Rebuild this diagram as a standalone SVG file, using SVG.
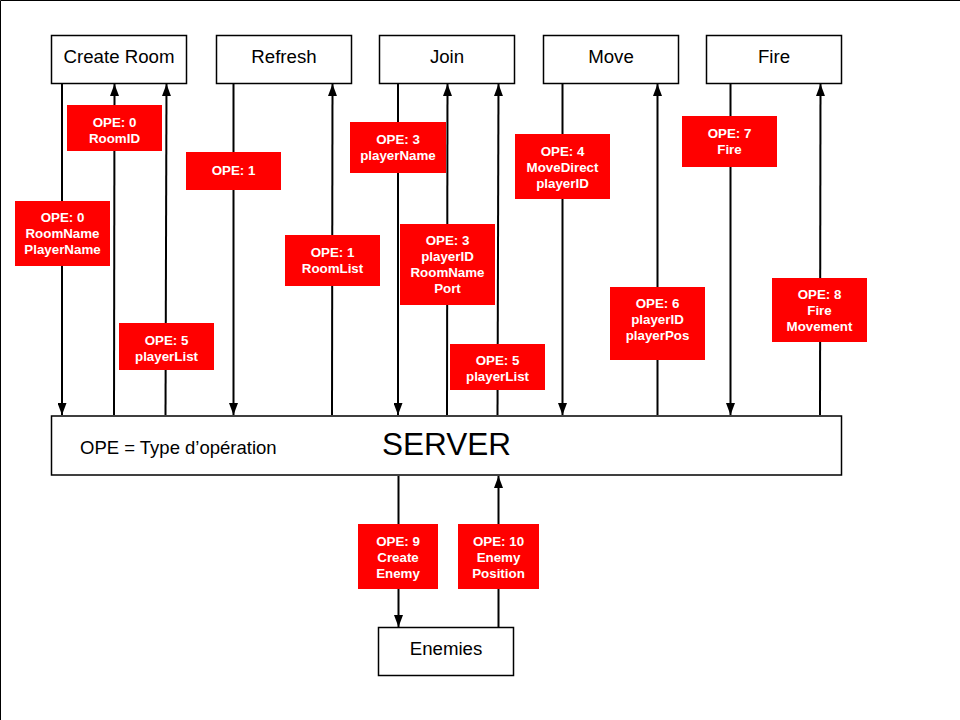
<svg xmlns="http://www.w3.org/2000/svg" width="960" height="720" viewBox="0 0 960 720">
<style>
.box{fill:#fff;stroke:#000;stroke-width:1.5}
.bt{font-family:"Liberation Sans",Arial,sans-serif;font-size:18.67px;fill:#000;text-anchor:middle}
.ln{stroke:#000;stroke-width:2;fill:none}
.lbl{fill:#ff0000}
.lt{font-family:"Liberation Sans",Arial,sans-serif;font-size:13.33px;font-weight:bold;fill:#fff;text-anchor:middle}
</style>
<defs>
<marker id="ah" markerUnits="userSpaceOnUse" markerWidth="12" markerHeight="9" refX="12" refY="4.5" orient="auto">
<path d="M0,0 L12,4.5 L0,9 z" fill="#000"/>
</marker>
</defs>
<rect width="960" height="720" fill="#fff"/>
<path d="M0.5,720 V0.5 H960" fill="none" stroke="#000" stroke-width="1"/>

<g id="create-room"><rect class="box" x="51.5" y="35.5" width="135" height="48"/><text class="bt" x="119" y="62.5">Create Room</text></g>
<g id="refresh"><rect class="box" x="216.5" y="35.5" width="135" height="48"/><text class="bt" x="284" y="62.5">Refresh</text></g>
<g id="join"><rect class="box" x="379.5" y="35.5" width="135" height="48"/><text class="bt" x="447" y="62.5">Join</text></g>
<g id="move"><rect class="box" x="543.5" y="35.5" width="135" height="48"/><text class="bt" x="611" y="62.5">Move</text></g>
<g id="fire"><rect class="box" x="706.5" y="35.5" width="135" height="48"/><text class="bt" x="774" y="62.5">Fire</text></g>
<g id="server"><rect class="box" x="51.5" y="416" width="790" height="59"/>
<text x="80" y="453.5" font-family="'Liberation Sans',Arial,sans-serif" font-size="18.5" fill="#000">OPE = Type d’opération</text>
<text x="382" y="455" font-family="'Liberation Sans',Arial,sans-serif" font-size="31.5" fill="#000">SERVER</text></g>
<g id="enemies"><rect class="box" x="378.5" y="627.5" width="135" height="48"/><text class="bt" x="446" y="655">Enemies</text></g>

<g id="connectors">
<line class="ln" x1="62" y1="84" x2="62" y2="415" marker-end="url(#ah)"/>
<line class="ln" x1="114" y1="415" x2="114.5" y2="84" marker-end="url(#ah)"/>
<line class="ln" x1="165.5" y1="415" x2="166.5" y2="84" marker-end="url(#ah)"/>
<line class="ln" x1="233.5" y1="84" x2="233.5" y2="415" marker-end="url(#ah)"/>
<line class="ln" x1="332" y1="415" x2="332.5" y2="84" marker-end="url(#ah)"/>
<line class="ln" x1="398" y1="84" x2="398" y2="415" marker-end="url(#ah)"/>
<line class="ln" x1="447" y1="415" x2="447.5" y2="84" marker-end="url(#ah)"/>
<line class="ln" x1="497.5" y1="415" x2="498.5" y2="84" marker-end="url(#ah)"/>
<line class="ln" x1="562.5" y1="84" x2="562.5" y2="415" marker-end="url(#ah)"/>
<line class="ln" x1="657.5" y1="415" x2="657.5" y2="84" marker-end="url(#ah)"/>
<line class="ln" x1="730.5" y1="84" x2="730.5" y2="415" marker-end="url(#ah)"/>
<line class="ln" x1="820" y1="415" x2="820.5" y2="84" marker-end="url(#ah)"/>
<line class="ln" x1="398.5" y1="476" x2="398.5" y2="627" marker-end="url(#ah)"/>
<line class="ln" x1="498.5" y1="627" x2="498.5" y2="476" marker-end="url(#ah)"/>

<g id="lbl1"><rect class="lbl" x="15" y="201" width="95" height="65"/><text class="lt" x="62.5" y="222.3">OPE: 0</text><text class="lt" x="62.5" y="238.3">RoomName</text><text class="lt" x="62.5" y="254.3">PlayerName</text></g>
<g id="lbl2"><rect class="lbl" x="67" y="105" width="95" height="46"/><text class="lt" x="114.5" y="126.5">OPE: 0</text><text class="lt" x="114.5" y="142.5">RoomID</text></g>
<g id="lbl3"><rect class="lbl" x="119" y="323" width="95" height="47"/><text class="lt" x="166.5" y="344.5">OPE: 5</text><text class="lt" x="166.5" y="360.5">playerList</text></g>
<g id="lbl4"><rect class="lbl" x="186" y="152" width="95" height="38"/><text class="lt" x="233.5" y="174.5">OPE: 1</text></g>
<g id="lbl5"><rect class="lbl" x="285" y="235" width="95" height="51"/><text class="lt" x="332.5" y="257">OPE: 1</text><text class="lt" x="332.5" y="273">RoomList</text></g>
<g id="lbl6"><rect class="lbl" x="350" y="122" width="96" height="51"/><text class="lt" x="398" y="144">OPE: 3</text><text class="lt" x="398" y="160">playerName</text></g>
<g id="lbl7"><rect class="lbl" x="400" y="224" width="95" height="81"/><text class="lt" x="447.5" y="245.3">OPE: 3</text><text class="lt" x="447.5" y="261.3">playerID</text><text class="lt" x="447.5" y="277.3">RoomName</text><text class="lt" x="447.5" y="293.3">Port</text></g>
<g id="lbl8"><rect class="lbl" x="450" y="344" width="95" height="46"/><text class="lt" x="497.5" y="364.5">OPE: 5</text><text class="lt" x="497.5" y="380.5">playerList</text></g>
<g id="lbl9"><rect class="lbl" x="515" y="134" width="95" height="65"/><text class="lt" x="562.5" y="155.5">OPE: 4</text><text class="lt" x="562.5" y="171.5">MoveDirect</text><text class="lt" x="562.5" y="187.5">playerID</text></g>
<g id="lbl10"><rect class="lbl" x="610" y="287" width="95" height="73"/><text class="lt" x="657.5" y="308.3">OPE: 6</text><text class="lt" x="657.5" y="324.3">playerID</text><text class="lt" x="657.5" y="340.3">playerPos</text></g>
<g id="lbl11"><rect class="lbl" x="682" y="116" width="95" height="51"/><text class="lt" x="729.5" y="138.3">OPE: 7</text><text class="lt" x="729.5" y="154.3">Fire</text></g>
<g id="lbl12"><rect class="lbl" x="772" y="278" width="95" height="64"/><text class="lt" x="819.5" y="299">OPE: 8</text><text class="lt" x="819.5" y="315">Fire</text><text class="lt" x="819.5" y="331">Movement</text></g>
<g id="lbl13"><rect class="lbl" x="358" y="524" width="80" height="65"/><text class="lt" x="398" y="545.5">OPE: 9</text><text class="lt" x="398" y="561.5">Create</text><text class="lt" x="398" y="577.5">Enemy</text></g>
<g id="lbl14"><rect class="lbl" x="458" y="524" width="81" height="65"/><text class="lt" x="498.5" y="545.5">OPE: 10</text><text class="lt" x="498.5" y="561.5">Enemy</text><text class="lt" x="498.5" y="577.5">Position</text></g>
</g>
</svg>
